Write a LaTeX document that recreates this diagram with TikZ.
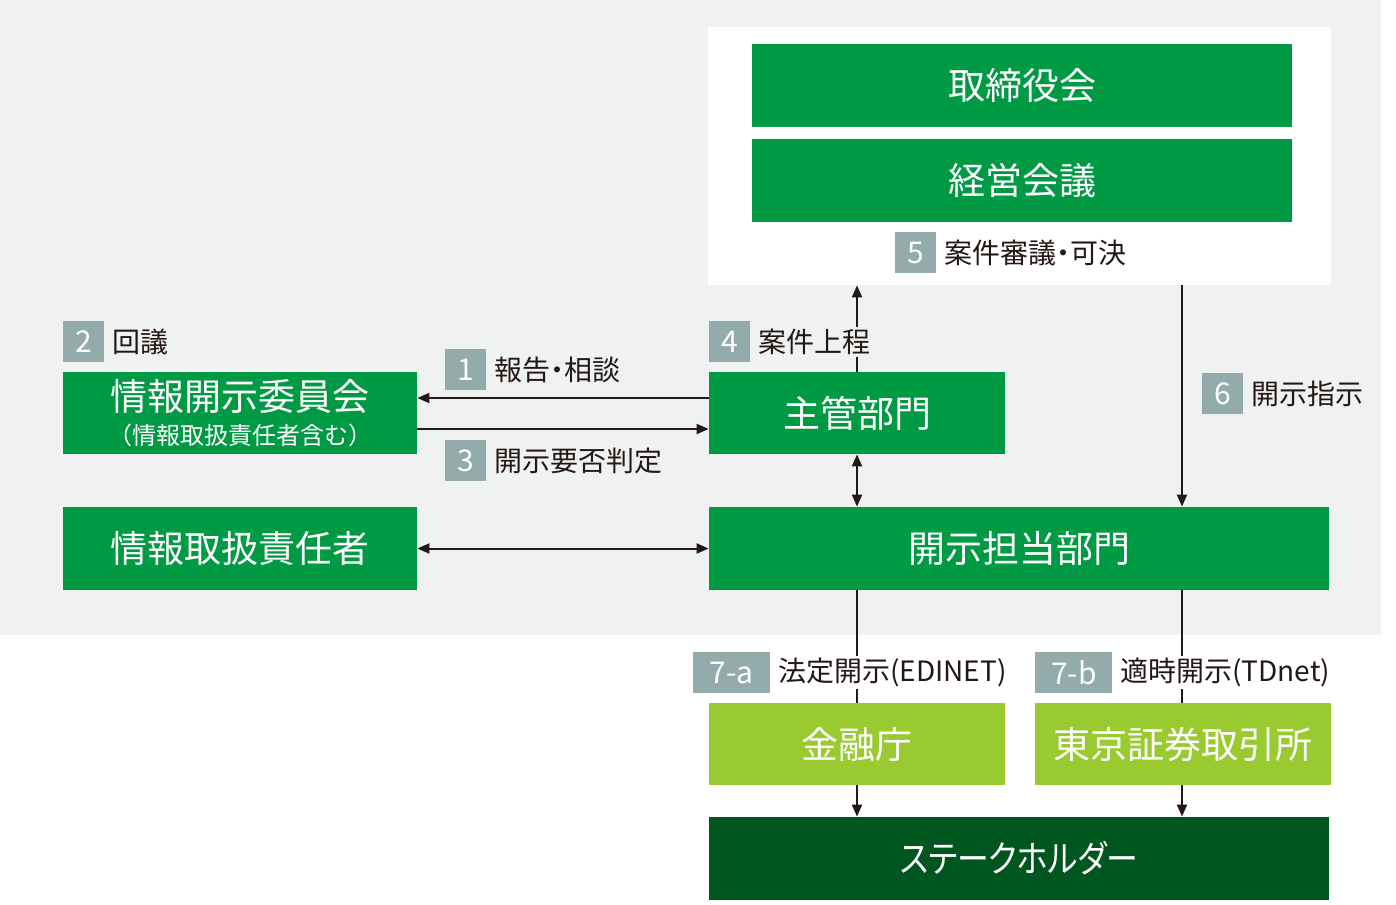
\documentclass[tikz,border=0pt]{standalone}
\usepackage{fontspec}
\setmainfont{Noto Sans CJK JP}
\newfontfamily\paltfont[RawFeature=+palt]{Noto Sans CJK JP}
\usetikzlibrary{arrows.meta}
\definecolor{G}{HTML}{009944}
\definecolor{LG}{HTML}{99CA2F}
\definecolor{DG}{HTML}{00561F}
\definecolor{NG}{HTML}{93ABAB}
\definecolor{BG}{HTML}{F0F2F1}
\definecolor{LN}{HTML}{231815}
\tikzset{
  box/.style={fill=G, text=white, inner sep=0pt, font=\fontsize{18.5}{22}\selectfont},
  num/.style={fill=NG, text=white, inner sep=0pt, minimum width=20.5pt, minimum height=20.5pt, font=\fontsize{15}{16}\selectfont},
  lab/.style={text=LN, inner sep=1pt, font=\fontsize{14}{16}\selectfont},
  ln/.style={draw=LN, line width=1pt},
  arr/.style={ln, -{Triangle[length=6pt,width=5pt]}},
  darr/.style={ln, {Triangle[length=6pt,width=5pt]}-{Triangle[length=6pt,width=5pt]}}
}
\begin{document}
\begin{tikzpicture}[x=0.5pt,y=-0.5pt]
\useasboundingbox (0,0) rectangle (1396,904);
\fill[BG] (0,0) rectangle (1381,635);
\node[fill=white, inner sep=0pt, minimum width=311.5pt, minimum height=129pt] (top) at (1019.5,156) {};
\coordinate (xr) at (1182,0);
% boxes
\node[box, minimum width=270pt, minimum height=41.5pt] (board) at (1022,85.5) {取締役会};
\node[box, minimum width=270pt, minimum height=41.5pt] (mgmt) at (1022,180.5) {経営会議};
\node[box, minimum width=148pt, minimum height=41pt] (shukan) at (857,413) {主管部門};
\node[box, minimum width=177pt, minimum height=41pt, align=center] (iinkai) at (240,413) {情報開示委員会\\[-5pt]{\fontsize{12}{14}\selectfont （情報取扱責任者含む）}};
\node[box, minimum width=177pt, minimum height=41.5pt] (sekinin) at (240,548.5) {情報取扱責任者};
\node[box, minimum width=310pt, minimum height=41.5pt] (tanto) at (1019,548.5) {開示担当部門};
\node[box, fill=LG, minimum width=148pt, minimum height=41pt] (fsa) at (857,744) {金融庁};
\node[box, fill=LG, minimum width=148pt, minimum height=41pt] (tse) at (1183,744) {東京証券取引所};
\node[box, fill=DG, minimum width=310pt, minimum height=41.5pt] (stake) at (1019,858.5) {\scalebox{0.86}[1]{\paltfont ステークホルダー}};
% connectors
\draw[arr] (shukan.north) -- (shukan.north |- top.south);
\draw[arr] (xr |- top.south) -- (xr |- tanto.north);
\draw[arr] ([yshift=7.5pt]shukan.west) -- ([yshift=7.5pt]iinkai.east);
\draw[arr] ([yshift=-8pt]iinkai.east) -- ([yshift=-8pt]shukan.west);
\draw[darr] (shukan.south) -- (tanto.north -| shukan.south);
\draw[darr] (sekinin.east) -- (tanto.west);
\draw[ln] (tanto.south -| fsa.north) -- (fsa.north);
\draw[ln] (xr |- tanto.south) -- (xr |- tse.north);
\draw[arr] (fsa.south) -- (stake.north -| fsa.south);
\draw[arr] (xr |- tse.south) -- (xr |- stake.north);
% labels
\node[num, anchor=north west] (n2) at (63,321) {2};
\node[lab, anchor=west] (l2) at ([xshift=2.5pt]n2.east) {回議};
\node[num, anchor=north west] (n1) at (445,349) {1};
\node[lab, anchor=west] (l1) at ([xshift=2.5pt]n1.east) {報告{\paltfont ・}相談};
\node[num, anchor=north west] (n3) at (445,440) {3};
\node[lab, anchor=west] (l3) at ([xshift=2.5pt]n3.east) {開示要否判定};
\node[num, anchor=north west] (n4) at (709,321) {4};
\node[lab, fill=BG, anchor=west] (l4) at ([xshift=2.5pt]n4.east) {案件上程};
\node[num, anchor=north west] (n5) at (895,232) {5};
\node[lab, anchor=west] (l5) at ([xshift=2.5pt]n5.east) {案件審議{\paltfont ・}可決};
\node[num, anchor=north west] (n6) at (1202,373) {6};
\node[lab, anchor=west] (l6) at ([xshift=2.5pt]n6.east) {開示指示};
\node[num, minimum width=38.5pt, anchor=north west] (n7a) at (693,652) {7-a};
\node[lab, fill=white, anchor=west] (l7a) at ([xshift=2.5pt]n7a.east) {法定開示(EDINET)};
\node[num, minimum width=38.5pt, anchor=north west] (n7b) at (1035,652) {7-b};
\node[lab, fill=white, anchor=west] (l7b) at ([xshift=2.5pt]n7b.east) {適時開示(TDnet)};
\end{tikzpicture}
\end{document}
